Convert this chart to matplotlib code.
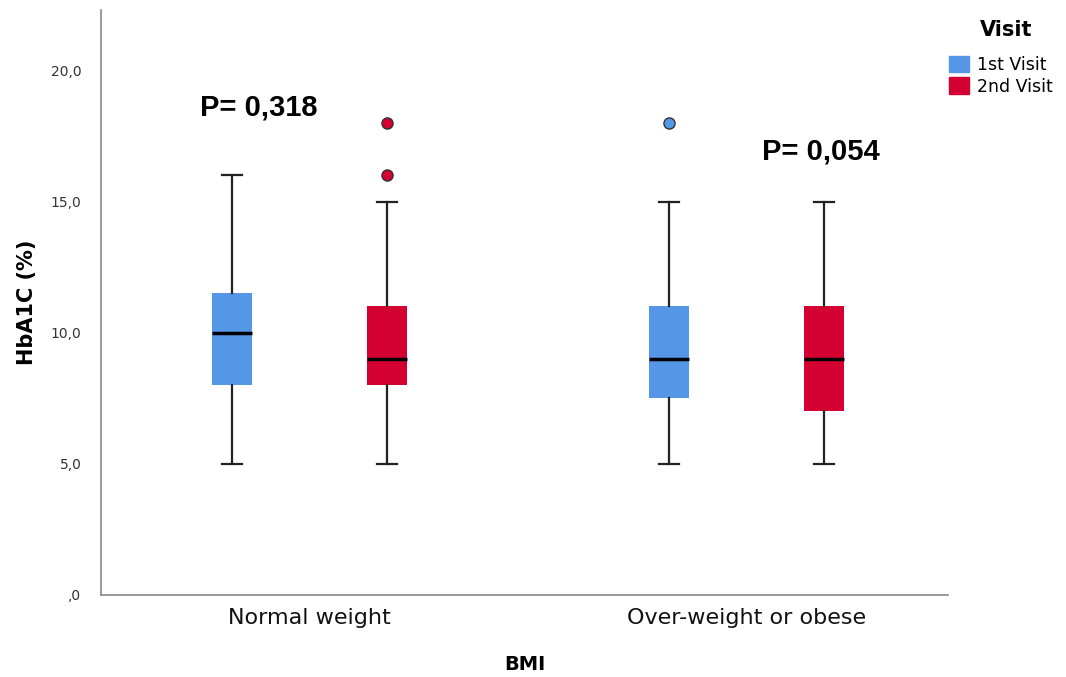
import matplotlib
matplotlib.use("Agg")
import matplotlib.pyplot as plt
from matplotlib.patches import Patch

categories = ["Normal weight", "Over-weight or obese"]
visits = ["1st Visit", "2nd Visit"]
colors = ["#5596E6", "#D50032"]

# per box: [normal 1st, normal 2nd, over 1st, over 2nd]
whislo = [5, 5, 5, 5]
q1 = [8, 8, 7.5, 7]
med = [10, 9, 9, 9]
q3 = [11.5, 11, 11, 11]
whishi = [16, 15, 15, 15]
fliers = [[], [16, 18], [18], []]

p_labels = ["P= 0,318", "P= 0,054"]
p_y = [18.6, 16.9]
p_x = [-0.116, 1.17]

fig = plt.figure(figsize=(10.66, 6.77), dpi=100)
ax = fig.add_axes([101/1066, 82/677, (948-101)/1066, (595-10)/677])

offset = 0.178
positions = []
stats = []
for gi in range(len(categories)):
    for vi in range(len(visits)):
        k = gi * 2 + vi
        positions.append(gi + (vi - 0.5) * 2 * offset)
        stats.append(dict(whislo=whislo[k], q1=q1[k], med=med[k], q3=q3[k],
                          whishi=whishi[k], fliers=fliers[k]))

bp = ax.bxp(stats, positions=positions, widths=0.092, capwidths=0.046,
            patch_artist=True, showfliers=True,
            boxprops=dict(linewidth=0),
            medianprops=dict(color="black", linewidth=2.5),
            whiskerprops=dict(color="#222222", linewidth=1.6),
            capprops=dict(color="#222222", linewidth=1.6),
            flierprops=dict(marker="o", markersize=8, markeredgecolor="#333333",
                            markeredgewidth=1.0))
for i, box in enumerate(bp["boxes"]):
    box.set_facecolor(colors[i % 2])
    box.set_edgecolor(colors[i % 2])
for i, fl in enumerate(bp["fliers"]):
    fl.set_markerfacecolor(colors[i % 2])

ax.set_xlim(-0.477, 1.461)
ax.set_ylim(0, 22.3)
ax.set_yticks([0, 5, 10, 15, 20])
ax.set_yticklabels([",0", "5,0", "10,0", "15,0", "20,0"], fontsize=10, color="#333333",
                   family="DejaVu Sans")
ax.set_xticks([0, 1])
ax.set_xticklabels(categories, fontsize=16, color="#111111", family="DejaVu Sans")
ax.tick_params(axis="y", length=0, pad=14)
ax.tick_params(axis="x", length=0, pad=9)
for s in ["top", "right"]:
    ax.spines[s].set_visible(False)
for s in ["left", "bottom"]:
    ax.spines[s].set_color("#888888")
    ax.spines[s].set_linewidth(1.2)

ax.set_ylabel("HbA1C (%)", fontsize=15, fontweight="bold", family="DejaVu Sans", labelpad=10)
ax.set_xlabel("BMI", fontsize=14, fontweight="bold", family="DejaVu Sans", labelpad=20)

for x, y, t in zip(p_x, p_y, p_labels):
    ax.text(x, y, t, fontsize=21, fontweight="bold", family="Liberation Sans",
            ha="center", va="center")

fig.text(1006/1066, 1 - 30/677, "Visit", fontsize=15, fontweight="bold",
         family="DejaVu Sans", ha="center", va="center")
handles = [Patch(facecolor=c, edgecolor=c) for c in colors]
leg = fig.legend(handles, visits, loc="upper left",
                 bbox_to_anchor=(933/1066, 1 - 40/677), frameon=False,
                 fontsize=12.5, handlelength=1.2, handleheight=1.1,
                 handletextpad=0.45, labelspacing=0.2)

fig.savefig("out.png", dpi=100)
